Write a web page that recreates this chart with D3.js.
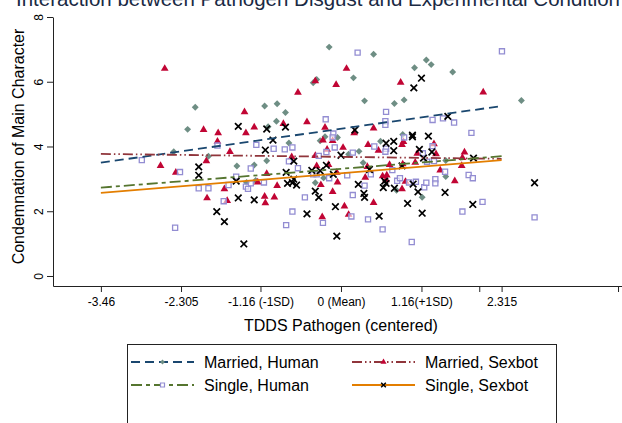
<!DOCTYPE html>
<html>
<head>
<meta charset="utf-8">
<script src="https://cdn.jsdelivr.net/npm/d3@7"></script>
<style>
  body { margin: 0; background: #fff; }
  svg { display: block; font-family: 'Liberation Sans', Arial, sans-serif; }
</style>
</head>
<body>
<svg width="622" height="423"></svg>
<script>
// tick values and labels
const xTicks = [-3.46, -2.305, -1.16, 0, 1.16, 2.315];
const xTickLabels = ['-3.46', '-2.305', '-1.16 (-1SD)', '0 (Mean)', '1.16(+1SD)', '2.315'];
const xExtraTicks = [2, 4];
const yTicks = [0, 2, 4, 6, 8];

const groups = ['Married, Human', 'Married, Sexbot', 'Single, Human', 'Single, Sexbot'];

// fitted lines, evaluated at the two ends of the pathogen range
const fitX = [-3.46, 2.315];
const fitMarriedHuman = [3.50, 5.25];
const fitMarriedSexbot = [3.77, 3.62];
const fitSingleHuman = [2.73, 3.70];
const fitSingleSexbot = [2.57, 3.58];

// raw observations [pathogen, condemnation]
const marriedHuman = [
  [-2.10, 5.21], [-2.21, 4.53], [-2.41, 3.84], [-1.91, 3.70], [-1.50, 3.40], [-1.25, 3.43],
  [-1.36, 2.89], [-0.17, 7.07], [0.47, 6.85], [0.18, 6.12], [1.06, 6.43], [1.23, 6.67],
  [1.30, 6.53], [-0.35, 6.07], [-0.40, 5.97], [0.34, 5.41], [0.77, 5.33], [0.91, 5.44],
  [-1.10, 5.25], [-0.92, 5.32], [-0.80, 5.05], [-0.93, 4.78], [-1.05, 4.61], [-0.75, 4.11],
  [-0.30, 4.18], [-0.23, 4.30], [-0.05, 4.28], [0.11, 3.76], [0.26, 3.85], [0.57, 4.16],
  [0.89, 4.37], [1.51, 3.57], [-1.07, 3.56], [-0.25, 3.03], [-0.37, 2.88], [0.32, 3.50],
  [0.80, 2.65], [1.51, 3.07], [1.17, 2.43], [-1.23, 2.95], [1.61, 6.30], [2.60, 5.42]
];
const marriedSexbot = [
  [-2.54, 6.43], [-1.39, 5.09], [-1.98, 4.54], [-1.77, 4.44], [-1.37, 4.44], [-1.25, 4.62],
  [-1.78, 4.18], [-1.60, 3.86], [-1.94, 3.58], [-2.60, 3.43], [-2.38, 3.22], [-1.68, 2.71],
  [-1.93, 2.43], [-1.64, 2.35], [0.08, 6.43], [0.86, 6.00], [-0.37, 6.05], [-0.07, 5.93],
  [-0.62, 5.69], [-0.49, 4.78], [-0.83, 4.73], [-0.23, 4.61], [0.47, 4.59], [0.19, 4.44],
  [-0.26, 4.22], [-0.12, 4.20], [-0.20, 3.93], [0.03, 3.99], [0.39, 4.08], [0.54, 3.90],
  [0.90, 4.17], [0.88, 4.08], [1.10, 3.81], [1.34, 4.10], [1.37, 3.79], [-0.71, 3.70],
  [-0.37, 3.74], [-0.18, 3.46], [-0.35, 3.42], [-1.07, 3.18], [-1.20, 2.92], [-0.92, 2.81],
  [-0.06, 3.22], [-0.05, 2.92], [-0.29, 2.84], [-0.12, 2.63], [0.38, 3.40], [0.35, 3.07],
  [0.47, 2.29], [0.60, 3.11], [0.66, 3.14], [0.65, 2.99], [0.70, 3.46], [0.89, 3.48],
  [0.88, 2.71], [0.93, 2.94], [1.07, 3.53], [1.43, 3.29], [-1.10, 2.48], [-1.09, 2.28],
  [-0.96, 2.46], [0.05, 2.18], [-0.27, 1.85], [0.11, 1.92], [2.05, 5.70], [1.78, 3.85],
  [1.75, 3.68], [1.74, 3.43], [1.64, 2.96]
];
const singleHuman = [
  [-1.78, 4.03], [-2.87, 3.58], [-1.30, 3.32], [-2.32, 3.21], [-1.51, 3.07], [-1.30, 2.86],
  [-1.62, 2.81], [-1.37, 2.76], [-1.34, 2.69], [-2.05, 2.71], [-1.91, 2.71], [-1.69, 2.31],
  [-2.39, 1.49], [0.24, 6.90], [0.65, 5.07], [-0.22, 4.84], [0.64, 4.78], [0.64, 4.67],
  [1.32, 4.82], [1.47, 4.87], [-0.11, 4.40], [-1.22, 4.05], [-0.12, 4.28], [-0.97, 3.93],
  [-0.81, 3.91], [-0.70, 3.97], [-0.09, 3.97], [-0.21, 3.83], [0.17, 3.81], [0.48, 4.00],
  [0.65, 3.93], [0.64, 3.84], [0.91, 4.28], [1.18, 3.79], [1.32, 4.01], [-0.32, 3.71],
  [1.24, 3.53], [1.34, 3.55], [-0.75, 3.54], [-0.62, 3.33], [-1.11, 2.89], [-0.40, 3.14],
  [-0.35, 3.14], [-0.17, 3.02], [0.09, 3.11], [0.34, 2.79], [0.43, 3.14], [0.17, 2.50],
  [0.74, 3.27], [0.81, 2.94], [0.85, 3.02], [0.98, 2.89], [1.08, 2.91], [1.20, 2.74],
  [1.23, 2.88], [1.36, 2.99], [1.36, 2.86], [-0.52, 2.43], [-0.70, 1.99], [-0.26, 1.64],
  [0.15, 1.84], [0.39, 1.75], [-0.79, 1.57], [0.60, 1.44], [1.02, 1.05], [2.32, 6.94],
  [1.63, 4.74], [1.88, 4.42], [1.50, 3.22], [1.84, 3.12], [1.90, 3.02], [2.04, 2.29],
  [1.75, 1.99], [2.79, 1.81]
];
const singleSexbot = [
  [-1.48, 4.62], [-2.05, 3.37], [-2.05, 3.11], [-1.51, 2.93], [-1.48, 2.41], [-1.25, 2.35],
  [-1.79, 1.99], [-1.68, 1.68], [-1.40, 0.99], [1.16, 6.11], [1.05, 5.81], [-1.07, 4.54],
  [-0.80, 4.60], [0.20, 4.51], [1.54, 4.93], [-0.98, 4.20], [-1.09, 3.89], [0.00, 3.73],
  [0.65, 4.10], [0.76, 4.16], [0.76, 3.87], [1.03, 4.35], [1.03, 4.30], [1.26, 4.32],
  [1.13, 3.91], [1.31, 3.83], [1.19, 3.64], [-0.68, 3.55], [-0.79, 3.20], [-0.77, 2.86],
  [-0.68, 2.99], [-0.70, 2.88], [-0.64, 2.81], [-0.42, 3.26], [-0.30, 3.25], [-0.21, 3.42],
  [-0.11, 3.14], [-0.37, 2.62], [-0.32, 2.43], [0.25, 2.83], [0.41, 3.29], [0.33, 2.55],
  [0.34, 2.43], [0.63, 2.93], [0.65, 2.86], [0.61, 2.73], [0.88, 3.40], [0.77, 2.71],
  [1.04, 2.84], [1.11, 2.60], [1.50, 2.58], [0.96, 2.24], [1.17, 1.94], [-0.49, 1.92],
  [-0.08, 2.14], [0.55, 1.85], [-0.06, 1.23], [1.91, 3.64], [1.90, 2.21], [2.79, 2.88]
];

const svg = d3.select('svg');

const x = d3.scaleLinear()
  .domain([-4.15, 4.05])
  .range([53, 622]);

const y = d3.scaleLinear()
  .domain([-0.309, 8])
  .range([286, 17]);

// title: the source image cuts it at the top edge, keep it that way
svg.append('text')
  .attr('x', 318)
  .attr('y', 5.5)
  .attr('text-anchor', 'middle')
  .attr('fill', '#1a2a44')
  .style('font-size', '20.5px')
  .text('Interaction between Pathogen Disgust and Experimental Condition');

// x-axis
svg.append('g')
  .attr('transform', `translate(0, ${y.range()[0]})`)
  .call(d3.axisBottom(x)
    .tickValues(xTicks)
    .tickFormat((d, i) => xTickLabels[i])
    .tickSize(6)
    .tickPadding(5)
    .tickSizeOuter(0))
  .call(g => g.selectAll('text')
    .attr('fill', '#000')
    .style('font-size', '12px')
    .style('font-family', "'Liberation Sans', Arial, sans-serif"));

// ticks without labels
svg.append('g')
  .attr('transform', `translate(0, ${y.range()[0]})`)
  .selectAll('line')
  .data(xExtraTicks)
  .join('line')
    .attr('x1', d => x(d))
    .attr('x2', d => x(d))
    .attr('y1', 0)
    .attr('y2', 6)
    .attr('stroke', '#222');

// y-axis, labels turned like Stata does
svg.append('g')
  .attr('transform', `translate(${x.range()[0]}, 0)`)
  .call(d3.axisLeft(y)
    .tickValues(yTicks)
    .tickSize(6)
    .tickSizeOuter(0))
  .call(g => g.selectAll('text')
    .attr('transform', 'rotate(-90)')
    .attr('x', 0)
    .attr('y', -10)
    .attr('dy', null)
    .attr('text-anchor', 'middle')
    .attr('fill', '#000')
    .style('font-size', '12px')
    .style('font-family', "'Liberation Sans', Arial, sans-serif"));

svg.selectAll('.domain').attr('stroke', '#222');
svg.selectAll('.tick line').attr('stroke', '#222');

// axis titles
svg.append('text')
  .attr('x', x(0))
  .attr('y', 331)
  .attr('text-anchor', 'middle')
  .style('font-size', '16px')
  .text('TDDS Pathogen (centered)');

svg.append('text')
  .attr('transform', `translate(24, ${(y(0) + y(8)) / 2}) rotate(-90)`)
  .attr('text-anchor', 'middle')
  .style('font-size', '16px')
  .text('Condemnation of Main Character');

// marker painters
const teal = '#6e8e84';
const cranberry = '#c10534';
const lavender = '#938dd2';
const diamond = d3.symbol().type(d3.symbolSquare).size(24);
const triangle = d3.symbol().type(d3.symbolTriangle).size(26);
const square = d3.symbol().type(d3.symbolSquare).size(26);
const cross = d3.symbol().type(d3.symbolX).size(30);

const plot = svg.append('g');

plot.selectAll('.mh')
  .data(marriedHuman)
  .join('path')
    .attr('class', 'mh')
    .attr('d', diamond)
    .attr('transform', d => `translate(${x(d[0])}, ${y(d[1])}) rotate(45)`)
    .attr('fill', teal);

plot.selectAll('.ms')
  .data(marriedSexbot)
  .join('path')
    .attr('class', 'ms')
    .attr('d', triangle)
    .attr('transform', d => `translate(${x(d[0])}, ${y(d[1]) + 0.8})`)
    .attr('fill', cranberry);

plot.selectAll('.sh')
  .data(singleHuman)
  .join('path')
    .attr('class', 'sh')
    .attr('d', square)
    .attr('transform', d => `translate(${x(d[0])}, ${y(d[1])})`)
    .attr('fill', '#fff')
    .attr('fill-opacity', 0.6)
    .attr('stroke', lavender)
    .attr('stroke-width', 1.3);

plot.selectAll('.ss')
  .data(singleSexbot)
  .join('path')
    .attr('class', 'ss')
    .attr('d', cross)
    .attr('transform', d => `translate(${x(d[0])}, ${y(d[1])})`)
    .attr('fill', 'none')
    .attr('stroke', '#000')
    .attr('stroke-width', 1.7);

// fitted lines
const lineStyles = [
  { color: '#1a476f', dash: '9,5' },
  { color: '#90353b', dash: '10,3,1.5,3,1.5,3' },
  { color: '#55752f', dash: '11,4,4,4' },
  { color: '#e37e00', dash: null },
];
const fits = [fitMarriedHuman, fitMarriedSexbot, fitSingleHuman, fitSingleSexbot];

const line = d3.line()
  .x((d, i) => x(fitX[i]))
  .y(d => y(d));

fits.forEach((fit, i) => {
  plot.append('path')
    .datum(fit)
    .attr('d', line)
    .attr('fill', 'none')
    .attr('stroke', lineStyles[i].color)
    .attr('stroke-width', 1.8)
    .attr('stroke-dasharray', lineStyles[i].dash);
});

// legend
const legend = svg.append('g');
legend.append('rect')
  .attr('x', 127.5)
  .attr('y', 344.5)
  .attr('width', 429)
  .attr('height', 120)
  .attr('fill', '#fff')
  .attr('stroke', '#222');

const keyPos = [
  { x: 131, y: 362 },
  { x: 352, y: 362 },
  { x: 131, y: 385 },
  { x: 352, y: 385 },
];
const keyMarkers = [
  g => g.append('path').attr('d', d3.symbol().type(d3.symbolSquare).size(12)())
    .attr('transform', 'rotate(45)').attr('fill', teal),
  g => g.append('path').attr('d', d3.symbol().type(d3.symbolTriangle).size(16)())
    .attr('fill', cranberry),
  g => g.append('path').attr('d', d3.symbol().type(d3.symbolSquare).size(16)())
    .attr('fill', '#fff').attr('stroke', lavender).attr('stroke-width', 1.2),
  g => g.append('path').attr('d', d3.symbol().type(d3.symbolX).size(16)())
    .attr('fill', 'none').attr('stroke', '#000').attr('stroke-width', 1.5),
];

groups.forEach((name, i) => {
  const p = keyPos[i];
  legend.append('line')
    .attr('x1', p.x)
    .attr('x2', p.x + 63)
    .attr('y1', p.y)
    .attr('y2', p.y)
    .attr('stroke', lineStyles[i].color)
    .attr('stroke-width', 1.8)
    .attr('stroke-dasharray', lineStyles[i].dash);
  keyMarkers[i](legend.append('g')
    .attr('transform', `translate(${p.x + 31.5}, ${p.y})`));
  legend.append('text')
    .attr('x', p.x + 73)
    .attr('y', p.y + 6)
    .style('font-size', '16px')
    .text(name);
});
</script>
</body>
</html>
